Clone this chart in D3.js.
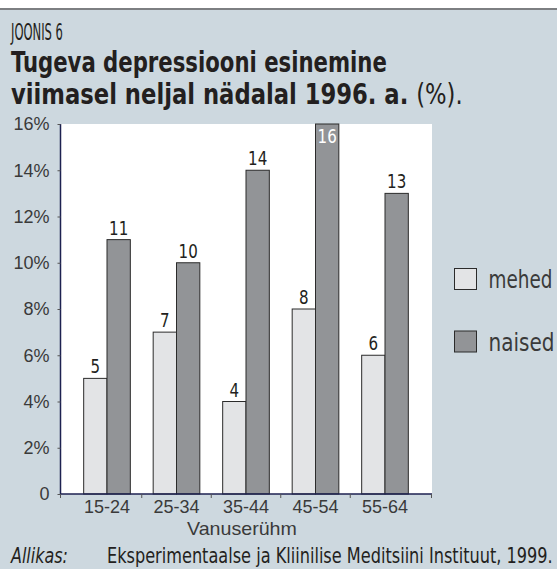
<!DOCTYPE html>
<html>
<head>
<meta charset="utf-8">
<script src="https://cdn.jsdelivr.net/npm/d3@7"></script>
<style>
  html, body { margin: 0; padding: 0; background: #fff; }
  svg { display: block; }
  .narrow { font-family: "Liberation Sans Narrow", "DejaVu Sans Condensed", "Liberation Sans", sans-serif; }
  .reg { font-family: "Liberation Sans", Arial, sans-serif; }
</style>
</head>
<body>
<svg id="chart" width="557" height="569"></svg>
<script>
const ageGroups = ["15-24", "25-34", "35-44", "45-54", "55-64"];
const seriesNames = ["mehed", "naised"];
const mehed = [5, 7, 4, 8, 6];
const naised = [11, 10, 14, 16, 13];
const yTicks = [0, 2, 4, 6, 8, 10, 12, 14, 16];

const colors = { mehed: "#e3e4e6", naised: "#929497" };
const ink = "#231f20";

const svg = d3.select("#chart");
const W = 557, H = 569;

// squeeze a text horizontally to a given width (condensed look)
function fit(text, width) {
  const w = text.node().getComputedTextLength();
  const x = +text.attr("x"), y = +text.attr("y");
  text.attr("x", 0).attr("y", 0)
    .attr("transform", `translate(${x},${y}) scale(${width / w},1)`);
  return text;
}

// background panel + top rule
svg.append("rect").attr("x", 0).attr("y", 0).attr("width", W).attr("height", H).attr("fill", "#fff");
svg.append("rect").attr("x", 0).attr("y", 9).attr("width", W).attr("height", H - 9).attr("fill", "#cdd8df");
svg.append("rect").attr("x", 0).attr("y", 8).attr("width", W).attr("height", 2).attr("fill", "#7d7f82");

// titles
fit(svg.append("text").attr("class", "narrow").attr("x", 11).attr("y", 40)
  .attr("font-size", 22.5).attr("fill", ink)
  .text("JOONIS 6"), 52);
fit(svg.append("text").attr("class", "narrow").attr("x", 11).attr("y", 72)
  .attr("font-size", 27.5).attr("font-weight", "bold").attr("fill", ink)
  .text("Tugeva depressiooni esinemine"), 376);
const t2 = svg.append("text").attr("class", "narrow").attr("x", 11).attr("y", 104)
  .attr("font-size", 27.5).attr("font-weight", "bold").attr("fill", ink);
t2.append("tspan").text("viimasel neljal nädalal 1996. a. ");
t2.append("tspan").attr("font-weight", "normal").text("(%).");
fit(t2, 452);

// plot area
const plotLeft = 60.5, plotRight = 432, plotTop = 124, plotBottom = 494;

const y = d3.scaleLinear().domain([0, 16]).range([plotBottom, plotTop]);
const x0 = d3.scaleBand().domain(ageGroups).range([72.25, 419.75]).padding(0);
const x1 = d3.scaleBand().domain(seriesNames).range([0, x0.bandwidth()]).paddingInner(0).paddingOuter(0.49);

svg.append("rect").attr("x", plotLeft).attr("y", plotTop)
  .attr("width", plotRight - plotLeft).attr("height", plotBottom - plotTop).attr("fill", "#fff");

const rows = ageGroups.map((g, i) => ({ group: g, mehed: mehed[i], naised: naised[i] }));

const groups = svg.append("g").selectAll("g")
  .data(rows).join("g")
  .attr("transform", d => `translate(${x0(d.group)},0)`);

groups.selectAll("rect")
  .data(d => seriesNames.map(s => ({ key: s, value: d[s] })))
  .join("rect")
  .attr("x", d => x1(d.key))
  .attr("y", d => y(d.value))
  .attr("width", x1.bandwidth())
  .attr("height", d => y(0) - y(d.value))
  .attr("fill", d => colors[d.key])
  .attr("stroke", "#2b2b2b")
  .attr("stroke-width", 1);

groups.selectAll("text.val")
  .data(d => seriesNames.map(s => ({ key: s, value: d[s] })))
  .join("text")
  .attr("class", "val narrow")
  .attr("text-anchor", "middle")
  .attr("font-size", 19.5)
  .attr("fill", d => d.value >= 16 ? "#fff" : ink)
  .attr("transform", d => {
    const cx = x1(d.key) + x1.bandwidth() / 2;
    const by = d.value >= 16 ? y(d.value) + 19 : y(d.value) - 5;
    return `translate(${cx},${by}) scale(0.86,1)`;
  })
  .text(d => d.value);

// y axis
const yAxis = svg.append("g")
  .attr("transform", `translate(${plotLeft},0)`)
  .call(d3.axisLeft(y).tickValues(yTicks).tickSize(3).tickPadding(8)
    .tickFormat(d => d === 0 ? "0" : d + "%"));
yAxis.select(".domain").attr("stroke", "#1d2150").attr("stroke-width", 1.5)
  .attr("d", `M0,${plotTop}V${plotBottom}`);
yAxis.selectAll(".tick line").attr("stroke", "#555");
yAxis.selectAll(".tick text").attr("class", "reg").attr("font-size", 18).attr("fill", "#3a3a3a");

// x axis
const xAxis = svg.append("g")
  .attr("transform", `translate(0,${plotBottom})`)
  .call(d3.axisBottom(x0).tickSize(0).tickPadding(6));
xAxis.select(".domain").attr("stroke", "#1d2150").attr("stroke-width", 1.5)
  .attr("d", `M${plotLeft},0H${plotRight}`);
xAxis.selectAll(".tick text").attr("class", "reg").attr("font-size", 18).attr("fill", "#3a3a3a");

const sepTicks = [plotLeft].concat(ageGroups.slice(1).map(g => x0(g)), [plotRight - 0.5]);
xAxis.selectAll("line.sep").data(sepTicks).join("line")
  .attr("class", "sep")
  .attr("x1", d => d).attr("x2", d => d)
  .attr("y1", 0).attr("y2", 4)
  .attr("stroke", "#555");

fit(svg.append("text").attr("class", "reg")
  .attr("x", 187).attr("y", 535)
  .attr("font-size", 17.5).attr("fill", "#3a3a3a")
  .text("Vanuserühm"), 110);

// legend
const legend = svg.append("g").selectAll("g")
  .data(seriesNames).join("g")
  .attr("transform", (d, i) => `translate(454.5,${268.5 + i * 62.5})`);
legend.append("rect").attr("width", 22).attr("height", 21)
  .attr("fill", d => colors[d]).attr("stroke", "#2b2b2b");
legend.append("text").attr("class", "narrow")
  .attr("x", 34).attr("y", 19.5)
  .attr("font-size", 24).attr("fill", "#3a3a3a")
  .text(d => d)
  .each(function(d) { fit(d3.select(this), d === "mehed" ? 64 : 66); });

// source
fit(svg.append("text").attr("class", "narrow").attr("x", 11).attr("y", 563)
  .attr("font-size", 22).attr("font-style", "italic").attr("fill", ink)
  .text("Allikas:"), 57);
fit(svg.append("text").attr("class", "narrow").attr("x", 107).attr("y", 563)
  .attr("font-size", 22).attr("fill", ink)
  .text("Eksperimentaalse ja Kliinilise Meditsiini Instituut, 1999."), 446);
</script>
</body>
</html>
